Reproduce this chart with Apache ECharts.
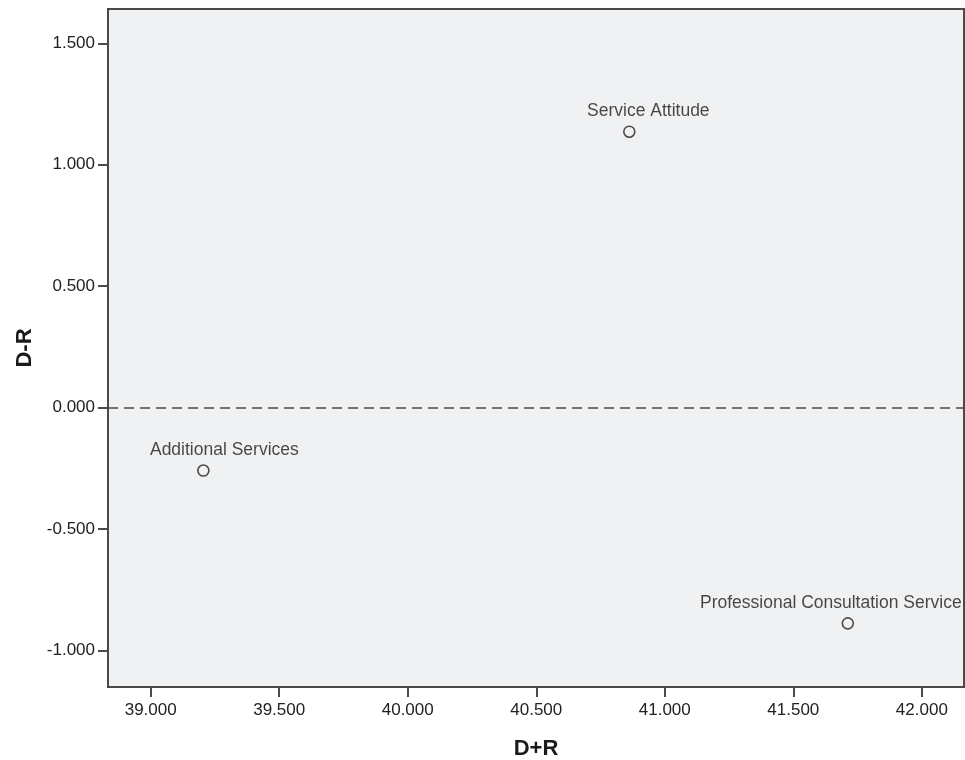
<!DOCTYPE html>
<html>
<head>
<meta charset="utf-8">
<script src="https://cdn.jsdelivr.net/npm/echarts@6/dist/echarts.min.js"></script>
<style>html,body{margin:0;padding:0;background:#fff;}#c{width:965px;height:760px;}</style>
</head>
<body>
<div id="c"></div>
<script>
var names = ['Service Attitude', 'Additional Services', 'Professional Consultation Service'];
var xValues = [40.862, 39.205, 41.712];
var yValues = [1.136, -0.259, -0.888];
var xTicks = [39.0, 39.5, 40.0, 40.5, 41.0, 41.5, 42.0];
var yTicks = [-1.0, -0.5, 0.0, 0.5, 1.0, 1.5];

var chart = echarts.init(document.getElementById('c'));
var fontFam = '"Liberation Sans", Arial, sans-serif';
var labelShift = [19, 21, -17];
var pts = names.map(function (n, i) {
  return { name: n, value: [xValues[i], yValues[i]], label: { offset: [labelShift[i], 0] } };
});

chart.setOption({
  animation: false,
  backgroundColor: '#ffffff',
  grid: {
    left: 108, right: 1, top: 9, bottom: 73,
    outerBoundsMode: 'none', containLabel: false,
    show: true, backgroundColor: '#f0f1f3', borderColor: '#4a4a4a', borderWidth: 2
  },
  xAxis: {
    type: 'value', min: 38.834, max: 42.164,
    name: 'D+R', nameLocation: 'middle', nameGap: 51,
    nameTextStyle: { fontFamily: fontFam, fontSize: 22, fontWeight: 'bold', color: '#1a1a1a' },
    axisLine: { show: true, onZero: false, lineStyle: { color: '#4a4a4a', width: 2 } },
    axisTick: { show: true, length: 10, lineStyle: { color: '#4a4a4a', width: 2 }, customValues: xTicks },
    axisLabel: { fontFamily: fontFam, fontSize: 17, color: '#222', margin: 15, customValues: xTicks,
      formatter: function (v) { return v.toFixed(3); } },
    splitLine: { show: false }
  },
  yAxis: {
    type: 'value', min: -1.15, max: 1.641,
    name: 'D-R', nameLocation: 'middle', nameGap: 72,
    nameTextStyle: { fontFamily: fontFam, fontSize: 22, fontWeight: 'bold', color: '#1a1a1a' },
    axisLine: { show: true, onZero: false, lineStyle: { color: '#4a4a4a', width: 2 } },
    axisTick: { show: true, length: 10, lineStyle: { color: '#4a4a4a', width: 2 }, customValues: yTicks },
    axisLabel: { fontFamily: fontFam, fontSize: 17, color: '#222', margin: 13, customValues: yTicks,
      formatter: function (v) { return v.toFixed(3); } },
    splitLine: { show: false }
  },
  series: [{
    type: 'scatter',
    data: pts,
    symbol: 'circle',
    symbolSize: 11,
    itemStyle: { color: '#f0f1f3', borderColor: '#222', borderWidth: 1.6 },
    label: {
      show: true, position: 'top', distance: 5,
      formatter: function (p) { return p.name; },
      fontFamily: fontFam, fontSize: 17.5, color: '#1a1a1a'
    },
    markLine: {
      silent: true, symbol: ['none', 'none'],
      label: { show: false },
      lineStyle: { color: '#4a4a4a', type: [10, 6], width: 1.6 },
      data: [{ yAxis: 0 }]
    }
  }]
});
</script>
</body>
</html>
